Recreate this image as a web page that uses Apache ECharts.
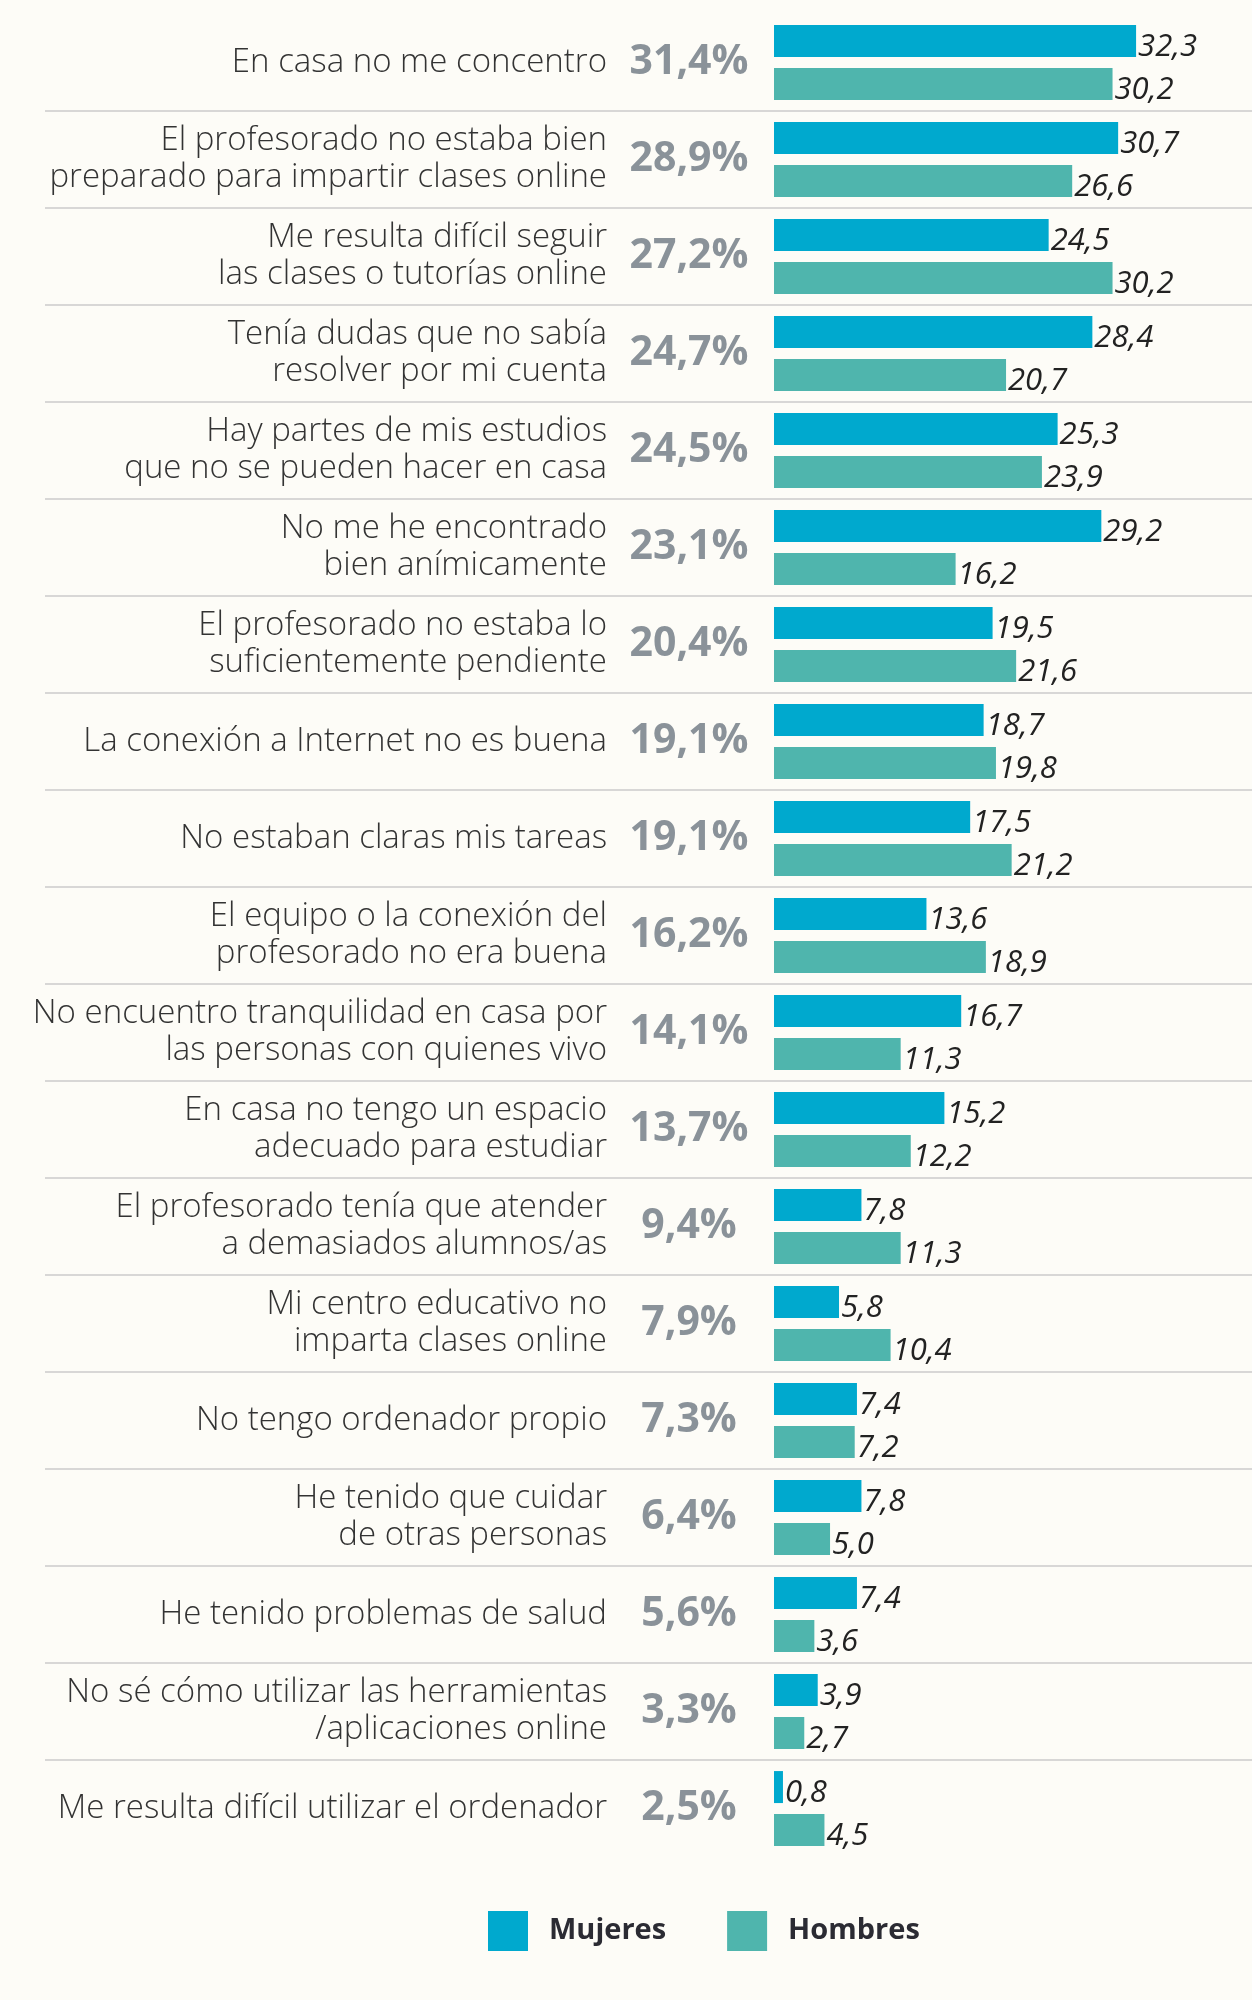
<!DOCTYPE html>
<html>
<head>
<meta charset="utf-8">
<script src="https://cdn.jsdelivr.net/npm/echarts@6/dist/echarts.min.js"></script>
<style>
html,body{margin:0;padding:0;background:#fdfcf7;}
#c{width:1252px;height:2000px;}
</style>
</head>
<body>
<div id="c"></div>
<script>
const categories = [
  "En casa no me concentro",
  "El profesorado no estaba bien\npreparado para impartir clases online",
  "Me resulta difícil seguir\nlas clases o tutorías online",
  "Tenía dudas que no sabía\nresolver por mi cuenta",
  "Hay partes de mis estudios\nque no se pueden hacer en casa",
  "No me he encontrado\nbien anímicamente",
  "El profesorado no estaba lo\nsuficientemente pendiente",
  "La conexión a Internet no es buena",
  "No estaban claras mis tareas",
  "El equipo o la conexión del\nprofesorado no era buena",
  "No encuentro tranquilidad en casa por\nlas personas con quienes vivo",
  "En casa no tengo un espacio\nadecuado para estudiar",
  "El profesorado tenía que atender\na demasiados alumnos/as",
  "Mi centro educativo no\nimparta clases online",
  "No tengo ordenador propio",
  "He tenido que cuidar\nde otras personas",
  "He tenido problemas de salud",
  "No sé cómo utilizar las herramientas\n/aplicaciones online",
  "Me resulta difícil utilizar el ordenador"
];
const totals = ["31,4%","28,9%","27,2%","24,7%","24,5%","23,1%","20,4%","19,1%","19,1%","16,2%","14,1%","13,7%","9,4%","7,9%","7,3%","6,4%","5,6%","3,3%","2,5%"];
const mujeres = [32.3,30.7,24.5,28.4,25.3,29.2,19.5,18.7,17.5,13.6,16.7,15.2,7.8,5.8,7.4,7.8,7.4,3.9,0.8];
const hombres = [30.2,26.6,30.2,20.7,23.9,16.2,21.6,19.8,21.2,18.9,11.3,12.2,11.3,10.4,7.2,5.0,3.6,2.7,4.5];

const chart = echarts.init(document.getElementById('c'), null, {renderer:'canvas'});
const fmt = p => p.value.toFixed(1).replace('.', ',');
const sepColors = ['rgba(0,0,0,0)'];
for (let i = 0; i < categories.length - 1; i++) sepColors.push('#cbcbcb');
sepColors.push('rgba(0,0,0,0)');

const barLabel = {
  show: true, position: 'right', distance: 2, offset: [0, 6], formatter: fmt,
  fontFamily: 'Open Sans', fontStyle: 'italic', fontSize: 31, color: '#222'
};

chart.setOption({
  backgroundColor: '#fdfcf7',
  animation: false,
  grid: [
    {left: 774, top: 14, width: 448.4, height: 1843},
    {left: 45, right: 0, top: 14, height: 1843}
  ],
  xAxis: [
    {type: 'value', gridIndex: 0, min: 0, max: 40, show: false},
    {type: 'value', gridIndex: 1, min: 0, max: 1, show: false}
  ],
  yAxis: [
    {type: 'category', gridIndex: 0, data: categories, inverse: true,
     axisLine: {show: false}, axisTick: {show: false}, splitLine: {show: false},
     axisLabel: {margin: 167, fontFamily: 'Open Sans', fontWeight: 300, fontSize: 33, color: '#333', lineHeight: 37, padding: [4, 0, 0, 0]}},
    {type: 'category', gridIndex: 0, data: totals, inverse: true, position: 'left',
     axisLine: {show: false}, axisTick: {show: false}, splitLine: {show: false},
     axisLabel: {margin: 85, align: 'center', fontFamily: 'Open Sans', fontWeight: 'bold', fontSize: 41, color: '#8a9299'}},
    {type: 'value', gridIndex: 1, min: 0, max: categories.length, interval: 1, inverse: true,
     axisLine: {show: false}, axisTick: {show: false}, axisLabel: {show: false},
     splitLine: {show: true, lineStyle: {color: sepColors, width: 1.5}}}
  ],
  legend: {
    data: ['Mujeres', 'Hombres'], left: 488, top: 1911, icon: 'rect',
    itemWidth: 40, itemHeight: 40, itemGap: 61, padding: 0,
    textStyle: {fontFamily: 'Open Sans', fontWeight: 'bold', fontSize: 29, color: '#2b2b33', padding: [0, 0, 0, 16]}
  },
  series: [
    {name: 'Mujeres', type: 'bar', xAxisIndex: 0, yAxisIndex: 0, data: mujeres,
     barWidth: 32, barGap: '34%', itemStyle: {color: '#00a9ce'}, label: barLabel},
    {name: 'Hombres', type: 'bar', xAxisIndex: 0, yAxisIndex: 0, data: hombres,
     barWidth: 32, barGap: '34%', itemStyle: {color: '#4fb5ad'}, label: barLabel}
  ]
});
</script>
</body>
</html>
